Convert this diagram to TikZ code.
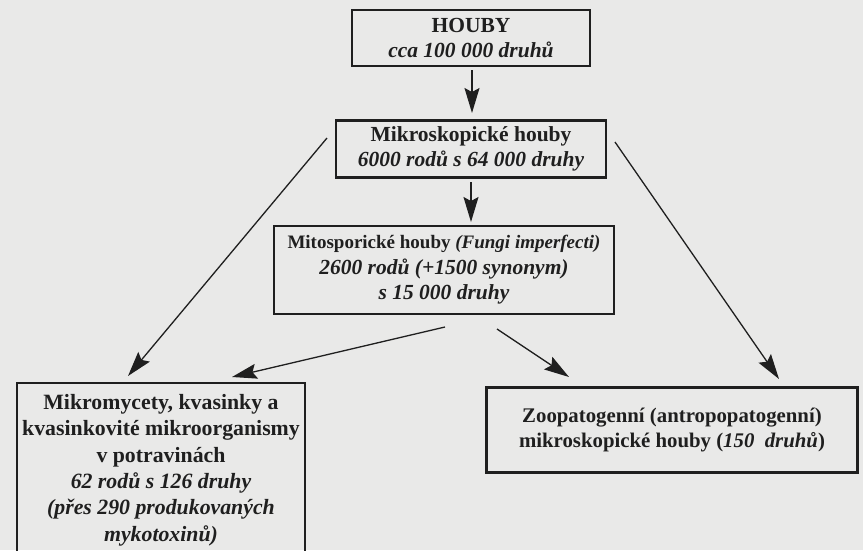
\documentclass[tikz,border=0pt]{standalone}
\usepackage{fontspec}
\setmainfont{Liberation Serif}
\usetikzlibrary{arrows.meta}
\definecolor{paper}{rgb}{0.915,0.915,0.91}
\definecolor{ink}{rgb}{0.12,0.12,0.12}
\begin{document}
\begin{tikzpicture}[x=1pt,y=-1pt,
  box/.style={draw=ink,line width=2.4pt,inner sep=0pt,align=center,text=ink,
    font=\fontsize{21.5}{25.5}\selectfont\bfseries},
  arr/.style={draw=ink,line width=1.3pt,-{Stealth[length=25pt,width=15pt,inset=4pt]}}]
\useasboundingbox (0,0) rectangle (863,550);
\fill[paper] (0,0) rectangle (863,550);
\begin{scope}
\clip (0,0) rectangle (863,550);
\node[box,minimum width=238pt,minimum height=56pt] (b1) at (471,38)
  {HOUBY\\\itshape cca 100 000 druhů};
\node[box,minimum width=270pt,minimum height=57pt] (b2) at (471,149)
  {Mikroskopické houby\\\itshape 6000 rodů s 64 000 druhy};
\node[box,minimum width=340pt,minimum height=88pt] (b3) at (444,270)
  {{\fontsize{19}{25.5}\selectfont Mitosporické houby \textit{(Fungi imperfecti)}}\\\itshape 2600 rodů (+1500 synonym)\\\itshape s 15 000 druhy};
\node[box,minimum width=288pt,minimum height=174pt,
  font=\fontsize{21.8}{26.4}\selectfont\bfseries] (b4) at (161,470)
  {Mikromycety, kvasinky a\\kvasinkovité mikroorganismy\\v potravinách\\\itshape 62 rodů s 126 druhy\\\itshape (přes 290 produkovaných\\\itshape mykotoxinů)};
\node[box,minimum width=371pt,minimum height=85pt,
  font=\fontsize{20.8}{25.5}\selectfont\bfseries] (b5) at (672,430)
  {Zoopatogenní (antropopatogenní)\\mikroskopické houby (\textit{150~~druhů})};
\end{scope}
% connector end points
\coordinate (a1s) at (472,70);  \coordinate (a1e) at (472,113);
\coordinate (a2s) at (471,182); \coordinate (a2e) at (471,222);
\coordinate (a3s) at (327,138); \coordinate (a3e) at (128,376);
\coordinate (a4s) at (615,142); \coordinate (a4e) at (779,379);
\coordinate (a5s) at (445,327); \coordinate (a5e) at (232,377);
\coordinate (a6s) at (497,329); \coordinate (a6e) at (569,377);
\draw[arr] (a1s) -- (a1e);
\draw[arr] (a2s) -- (a2e);
\draw[arr] (a3s) -- (a3e);
\draw[arr] (a4s) -- (a4e);
\draw[arr] (a5s) -- (a5e);
\draw[arr] (a6s) -- (a6e);
\end{tikzpicture}
\end{document}
